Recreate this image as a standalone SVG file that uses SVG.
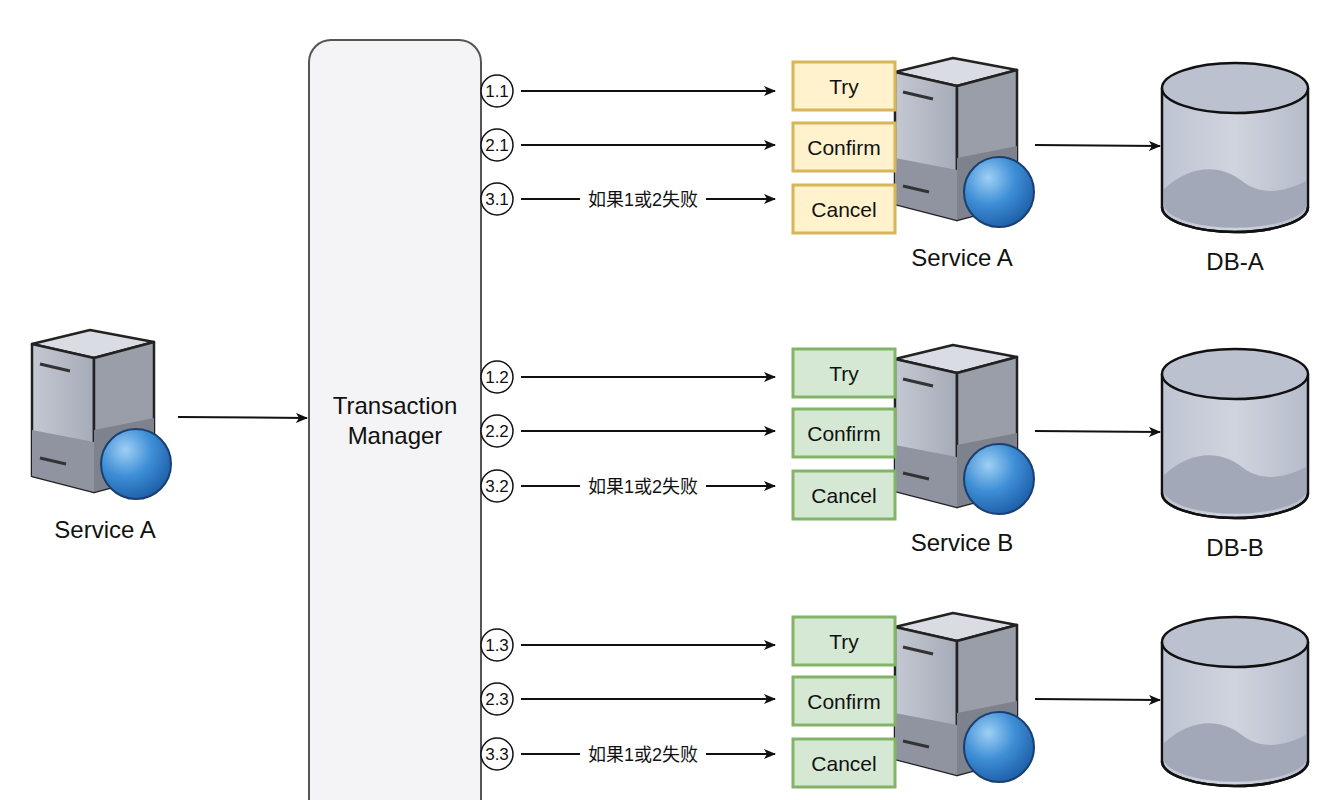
<svg xmlns="http://www.w3.org/2000/svg" width="1343" height="800" viewBox="0 0 1343 800">
<style>
text{font-family:"Liberation Sans",Arial,"Noto Sans CJK SC",sans-serif;fill:#111}
.lbl{font-size:24px;text-anchor:middle}
.op{font-size:21px;text-anchor:middle}
.num{font-size:17px;text-anchor:middle}
.cn{font-size:18px;text-anchor:middle}
.y{fill:#fff2cc;stroke:#d6b656;stroke-width:3}
.g{fill:#d5e8d4;stroke:#82b366;stroke-width:3}
.c{fill:#fff;stroke:#111;stroke-width:1.5}
.ln{stroke:#111;stroke-width:2;fill:none;marker-end:url(#ar)}
</style>
<defs>
<marker id="ar" markerWidth="12" markerHeight="10" refX="11" refY="5" orient="auto" markerUnits="userSpaceOnUse"><path d="M0,0 L12,5 L0,10 L3,5 Z" fill="#111"/></marker>
<linearGradient id="fr" x1="0" y1="0" x2="1" y2="0"><stop offset="0" stop-color="#c4c8d2"/><stop offset="1" stop-color="#a6abb8"/></linearGradient>
<radialGradient id="sp" cx="0.35" cy="0.3" r="0.75"><stop offset="0" stop-color="#9fd0f5"/><stop offset="0.5" stop-color="#3f8fd6"/><stop offset="1" stop-color="#1c5ea8"/></radialGradient>
<linearGradient id="db" x1="0" y1="0" x2="1" y2="0"><stop offset="0" stop-color="#bfc4d2"/><stop offset="0.5" stop-color="#d0d4de"/><stop offset="1" stop-color="#b6bbca"/></linearGradient>
<g id="srv">
<path d="M0,14 L58,0 L122,12 L62,28 Z" fill="#d9dce3" stroke="#222" stroke-width="2.5" stroke-linejoin="round"/>
<path d="M0,14 L62,28 L62,162 L0,146 Z" fill="url(#fr)" stroke="#222" stroke-width="2.5" stroke-linejoin="round"/>
<path d="M62,28 L122,12 L122,146 L62,162 Z" fill="#9a9ea8" stroke="#222" stroke-width="2.5" stroke-linejoin="round"/>
<path d="M62,100 L122,88 L122,146 L62,162 Z" fill="#7e828c"/>
<path d="M0,100 L62,112 L62,162 L0,146 Z" fill="#8f94a0"/>
<path d="M8,34 L38,41 M8,128 L34,134" stroke="#333" stroke-width="3"/>
<circle cx="104" cy="134" r="35" fill="url(#sp)" stroke="#1a3f70" stroke-width="2"/>
</g>
<g id="dbs">
<path d="M0,25 L0,144 A73,25 0 0 0 146,144 L146,25" fill="url(#db)" stroke="#111" stroke-width="2.5"/>
<path d="M2,126 C30,100 60,102 80,118 C100,134 125,128 144,118 L144,144 A72,25 0 0 1 2,144 Z" fill="#a3a8b9"/>
<path d="M0,144 A73,25 0 0 0 146,144" fill="none" stroke="#111" stroke-width="2.5"/>
<ellipse cx="73" cy="25" rx="73" ry="25" fill="#bcc1cf" stroke="#111" stroke-width="2.5"/>
</g>
</defs>
<rect width="1343" height="800" fill="#fff"/>
<g id="tm"><rect x="309" y="40" width="172" height="790" rx="22" fill="#f4f4f6" stroke="#555" stroke-width="2"/>
<text class="lbl" x="395" y="414">Transaction</text><text class="lbl" x="395" y="444">Manager</text></g>
<g id="client"><use href="#srv" x="32" y="330"/><text class="lbl" x="105" y="538">Service A</text></g>
<g id="svcA"><use href="#srv" x="895" y="58"/><text class="lbl" x="962" y="266">Service A</text>
<rect class="y" x="793" y="62" width="102" height="48"/><text class="op" x="844" y="94">Try</text>
<rect class="y" x="793" y="123" width="102" height="48"/><text class="op" x="844" y="155">Confirm</text>
<rect class="y" x="793" y="185" width="102" height="48"/><text class="op" x="844" y="217">Cancel</text></g>
<g id="svcB"><use href="#srv" x="895" y="345"/><text class="lbl" x="962" y="551">Service B</text>
<rect class="g" x="793" y="349" width="102" height="48"/><text class="op" x="844" y="381">Try</text>
<rect class="g" x="793" y="409" width="102" height="48"/><text class="op" x="844" y="441">Confirm</text>
<rect class="g" x="793" y="471" width="102" height="48"/><text class="op" x="844" y="503">Cancel</text></g>
<g id="svcC"><use href="#srv" x="895" y="613"/>
<rect class="g" x="793" y="617" width="102" height="48"/><text class="op" x="844" y="649">Try</text>
<rect class="g" x="793" y="677" width="102" height="48"/><text class="op" x="844" y="709">Confirm</text>
<rect class="g" x="793" y="739" width="102" height="48"/><text class="op" x="844" y="771">Cancel</text></g>
<g id="dbA"><use href="#dbs" x="1162" y="63"/><text class="lbl" x="1235" y="270">DB-A</text></g>
<g id="dbB"><use href="#dbs" x="1162" y="349"/><text class="lbl" x="1235" y="556">DB-B</text></g>
<g id="dbC"><use href="#dbs" x="1162" y="617"/></g>
<g id="steps">
<circle class="c" cx="497" cy="91" r="16"/><text class="num" x="497" y="97">1.1</text>
<circle class="c" cx="497" cy="145" r="16"/><text class="num" x="497" y="151">2.1</text>
<circle class="c" cx="497" cy="199" r="16"/><text class="num" x="497" y="205">3.1</text>
<circle class="c" cx="497" cy="377" r="16"/><text class="num" x="497" y="383">1.2</text>
<circle class="c" cx="497" cy="431" r="16"/><text class="num" x="497" y="437">2.2</text>
<circle class="c" cx="497" cy="486" r="16"/><text class="num" x="497" y="492">3.2</text>
<circle class="c" cx="497" cy="645" r="16"/><text class="num" x="497" y="651">1.3</text>
<circle class="c" cx="497" cy="699" r="16"/><text class="num" x="497" y="705">2.3</text>
<circle class="c" cx="497" cy="754" r="16"/><text class="num" x="497" y="760">3.3</text>
</g>
<g id="connectors">
<path class="ln" d="M178,417 L307,418"/>
<path class="ln" d="M521,91 L775,91"/><path class="ln" d="M521,145 L775,145"/>
<path class="ln" d="M521,199 L775,199"/>
<path class="ln" d="M521,377 L775,377"/><path class="ln" d="M521,431 L775,431"/>
<path class="ln" d="M521,486 L775,486"/>
<path class="ln" d="M521,645 L775,645"/><path class="ln" d="M521,699 L775,699"/>
<path class="ln" d="M521,754 L775,754"/>
<path class="ln" d="M1035,145 L1160,146"/><path class="ln" d="M1035,431 L1160,432"/><path class="ln" d="M1035,699 L1160,700"/>
<rect x="580" y="188" width="126" height="22" fill="#fff"/><text class="cn" x="643" y="206">如果1或2失败</text>
<rect x="580" y="475" width="126" height="22" fill="#fff"/><text class="cn" x="643" y="493">如果1或2失败</text>
<rect x="580" y="743" width="126" height="22" fill="#fff"/><text class="cn" x="643" y="761">如果1或2失败</text>
</g>
</svg>
